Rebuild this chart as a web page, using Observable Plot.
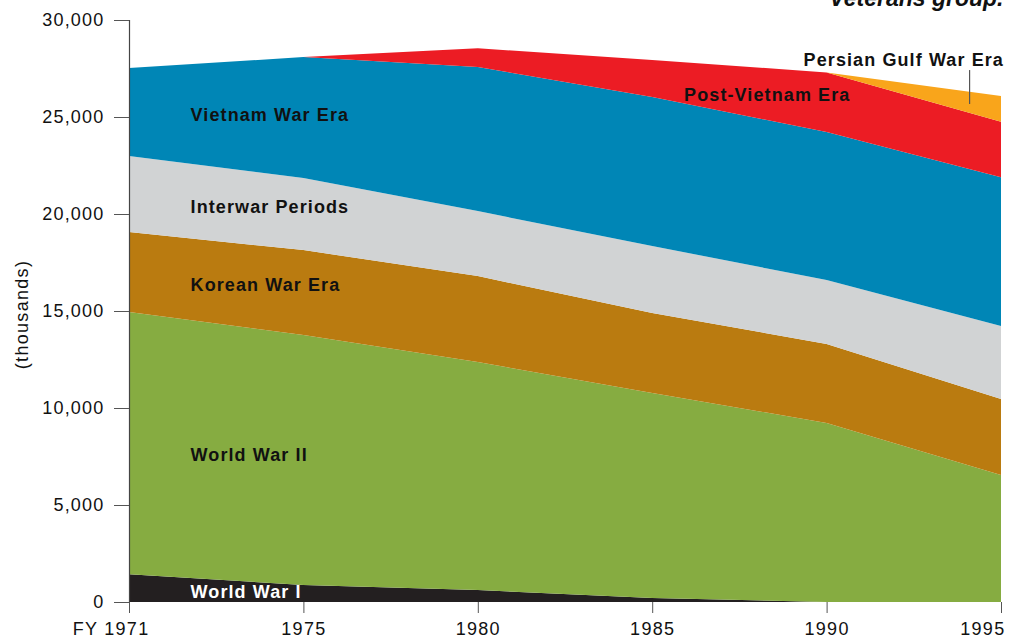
<!DOCTYPE html>
<html><head><meta charset="utf-8">
<script src="https://cdn.jsdelivr.net/npm/d3@7"></script>
<script src="https://cdn.jsdelivr.net/npm/@observablehq/plot@0.6"></script>
<style>
body{margin:0;background:#fff;}
#chart{width:1017px;height:639px;overflow:hidden;}
</style>
</head><body><div id="chart"></div>
<script>
// Tick labels / categories
const years = ["FY 1971", "1975", "1980", "1985", "1990", "1995"];
const yTicks = [0, 5000, 10000, 15000, 20000, 25000, 30000];
const series = ["World War I", "World War II", "Korean War Era", "Interwar Periods", "Vietnam War Era", "Post-Vietnam Era", "Persian Gulf War Era"];
const colors = ["#231f20", "#86ac41", "#ba7b10", "#d1d3d4", "#0086b6", "#ec1c24", "#f9a51b"];

// Series values (thousands of veterans), per year
const worldWarI    = [1430, 880, 620, 200, 0, 0];
const worldWarII   = [13520, 12880, 11750, 10570, 9230, 6550];
const koreanWar    = [4120, 4380, 4430, 4130, 4070, 3910];
const interwar     = [3920, 3720, 3350, 3450, 3300, 3770];
const vietnamWar   = [4540, 6230, 7430, 7680, 7630, 7670];
const postVietnam  = [0, 0, 960, 1910, 3070, 2860];
const persianGulf  = [0, 0, 0, 0, 0, 1320];

// Label positions in data units (x = year index, y = thousands)
const labelText = ["Vietnam War Era", "Interwar Periods", "Korean War Era", "World War II", "World War I", "Post-Vietnam Era", "Persian Gulf War Era"];
const labelX    = [0.35, 0.35, 0.35, 0.35, 0.35, 3.18, 3.865];
const labelY    = [25100, 20360, 16340, 7580, 515, 26130, 27940];
const labelFill = ["#111", "#111", "#111", "#111", "#fff", "#111", "#111"];
// Leader line for Persian Gulf War Era
const leaderX = [4.817];
const leaderY1 = [27420];
const leaderY2 = [25670];

const valuesBySeries = [worldWarI, worldWarII, koreanWar, interwar, vietnamWar, postVietnam, persianGulf];
const table = [];
series.forEach((s, i) => valuesBySeries[i].forEach((v, j) => table.push({series: s, x: j, value: v})));
const labels = labelText.map((t, i) => ({text: t, x: labelX[i], y: labelY[i], fill: labelFill[i]}));
const leaders = leaderX.map((x, i) => ({x, y1: leaderY1[i], y2: leaderY2[i]}));
const xIdx = d3.range(years.length);
const firstIdx = [0], lastIdx = [years.length - 1], midIdx = xIdx.slice(1, -1);
const yFmt = d3.format(",");

const xLabelOpts = {x: d => d, y: 0, text: d => years[d], lineAnchor: "middle", dy: 27, fontSize: 18, fill: "#111"};

const chart = Plot.plot({
  width: 1017,
  height: 639,
  marginLeft: 129,
  marginRight: 16,
  marginTop: 20,
  marginBottom: 37,
  style: {fontFamily: "'Liberation Sans', Arial, Helvetica, sans-serif", fontSize: "18px", color: "#111", background: "#fff", overflow: "visible"},
  x: {domain: [0, years.length - 1], axis: null},
  y: {domain: [0, 30000], axis: null},
  color: {domain: series, range: colors},
  marks: [
    Plot.areaY(table, {x: "x", y: "value", fill: "series", order: series}),
    Plot.ruleX([0], {stroke: "#444", strokeWidth: 1.2}),
    Plot.axisY({ticks: yTicks, tickSize: 15, tickPadding: 10, tickFormat: yFmt, label: null, fontSize: 18, stroke: "#555", fill: "#111"}),
    Plot.axisX({ticks: xIdx, tickFormat: () => "", tickSize: 11, label: null, stroke: "#555"}),
    Plot.text(midIdx, {...xLabelOpts, textAnchor: "middle"}),
    Plot.text(firstIdx, {...xLabelOpts, textAnchor: "end", dx: 20}),
    Plot.text(lastIdx, {...xLabelOpts, textAnchor: "end", dx: 4}),
    Plot.text(["(thousands)"], {frameAnchor: "left", textAnchor: "middle", dx: -107, dy: 3, rotate: -90, fontSize: 18, fill: "#111"}),
    Plot.text(["Veterans group."], {frameAnchor: "top-right", textAnchor: "end", lineAnchor: "bottom", dx: 2, dy: -15, fontSize: 23, fontStyle: "italic", fontWeight: "bold", fill: "#111"}),
    Plot.text(labels, {x: "x", y: "y", text: "text", fill: "fill", textAnchor: "start", fontWeight: "bold", fontSize: 18}),
    Plot.ruleX(leaders, {x: "x", y1: "y1", y2: "y2", stroke: "#555", strokeWidth: 1.2})
  ]
});
const yTickTexts = yTicks.map(yFmt);
d3.select(chart).selectAll("text").each(function() {
  const t = this.textContent;
  const s = d3.select(this);
  if (labelText.includes(t)) s.attr("letter-spacing", "1.1px");
  else if (years.includes(t)) s.attr("letter-spacing", "1.3px");
  else if (yTickTexts.includes(t)) s.attr("letter-spacing", "1.2px");
  else if (t === "(thousands)") s.attr("letter-spacing", "1.3px");
});
document.getElementById("chart").appendChild(chart);
</script>
</body></html>
